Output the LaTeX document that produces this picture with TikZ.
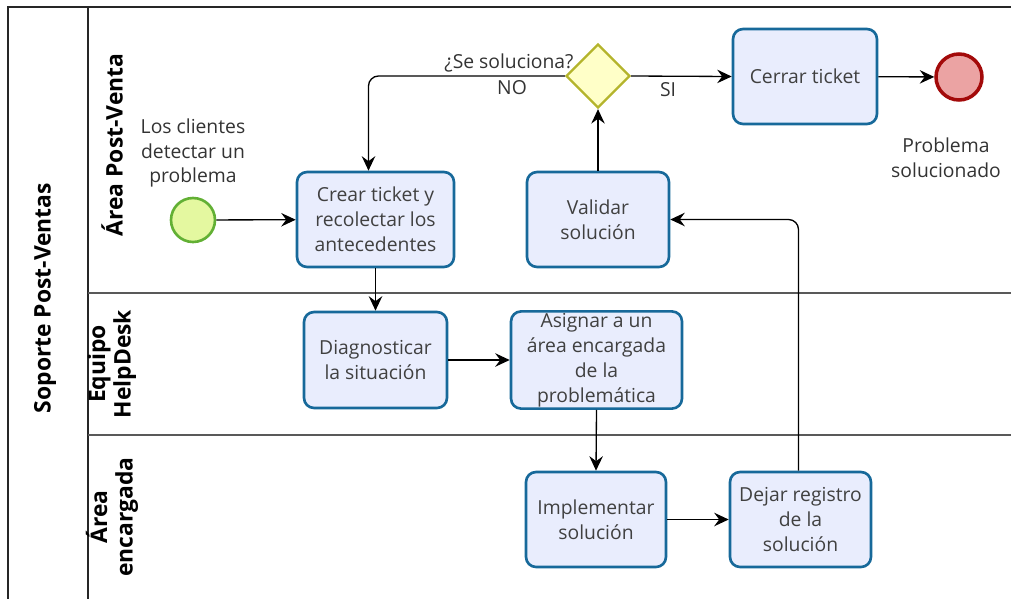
\documentclass[tikz,border=0pt]{standalone}
\usepackage{fontspec}
\setmainfont{Open Sans}
\usetikzlibrary{arrows.meta,shapes.geometric}

\begin{document}
\begin{tikzpicture}[x=0.02cm,y=-0.02cm,font=\fontsize{11}{14.2}\selectfont]
  % Colors
  \definecolor{taskfill}{HTML}{E9EDFD}
  \definecolor{taskdraw}{HTML}{17699A}
  \definecolor{startfill}{HTML}{E4F8A0}
  \definecolor{startdraw}{HTML}{62B034}
  \definecolor{endfill}{HTML}{EBA3A3}
  \definecolor{enddraw}{HTML}{A30A0A}
  \definecolor{gatefill}{HTML}{FFFFC8}
  \definecolor{gatedraw}{HTML}{B4B42C}

  % Styles
  \tikzstyle{pool line}=[draw=black!85, line width=0.9pt]
  \tikzstyle{lane line}=[draw=black!65, line width=0.9pt]
  \tikzstyle{pool title}=[font=\bfseries\fontsize{13}{14.5}\selectfont, align=center]
  \tikzstyle{lane title}=[font=\bfseries\fontsize{13}{14.5}\selectfont, align=center]
  \tikzstyle{task box}=[rectangle, rounded corners=2mm, draw=taskdraw, fill=taskfill,
                        line width=1.5pt, text=black!75, align=center, inner sep=1pt]
  \tikzstyle{gateway}=[diamond, draw=gatedraw, fill=gatefill, line width=1.3pt,
                       minimum width=1.28cm, minimum height=1.28cm, inner sep=0pt]
  \tikzstyle{start event}=[circle, draw=startdraw, fill=startfill, line width=1.5pt,
                           minimum size=0.88cm, inner sep=0pt]
  \tikzstyle{end event}=[circle, draw=enddraw, fill=endfill, line width=2pt,
                         minimum size=0.92cm, inner sep=0pt]
  \tikzstyle{event label}=[align=center, text=black!80]
  \tikzstyle{flow}=[draw=black, line width=0.75pt,
                    -{Stealth[length=2.9mm,width=2.7mm,inset=1mm]}]

  \useasboundingbox (0,0) rectangle (1011,599);

  % Pool and lanes
  \draw[pool line] (1011,7) -- (8,7) -- (8,599);
  \draw[pool line] (88,7) -- (88,599);
  \draw[lane line] (88,293) -- (1011,293);
  \draw[lane line] (88,435) -- (1011,435);

  \node[pool title, rotate=90] (pool) at (45,298) {Soporte Post-Ventas};
  \node[lane title, rotate=90] (postventa) at (112,145) {Área Post-Venta};
  \node[lane title, rotate=90] (helpdesk) at (112,364) {Equipo\\HelpDesk};
  \node[lane title, rotate=90] (encargada) at (112,517) {Área\\encargada};

  % Events and gateway
  \node[start event] (inicio) at (193,220) {};
  \node[event label] (inicio label) at (193,153) {Los clientes\\detectar un\\problema};
  \node[end event] (fin) at (959,77) {};
  \node[event label] (fin label) at (946,158) {Problema\\solucionado};
  \node[gateway] (gw) at (598,76) {};
  \node[event label] (gw label) at (509,63) {¿Se soluciona?};
  \node[event label] (no label) at (512,88) {NO};
  \node[event label] (si label) at (668,90) {SI};

  % Tasks
  \node[task box, minimum width=3.14cm, minimum height=1.9cm] (crear) at (375.5,219.5)
    {Crear ticket y\\recolectar los\\antecedentes};
  \node[task box, minimum width=2.84cm, minimum height=1.9cm] (validar) at (598,219.5)
    {Validar\\solución};
  \node[task box, minimum width=2.88cm, minimum height=1.9cm] (cerrar) at (805,76.5)
    {Cerrar ticket};
  \node[task box, minimum width=2.86cm, minimum height=1.92cm] (diag) at (375.5,360)
    {Diagnosticar\\la situación};
  \node[task box, minimum width=3.42cm, minimum height=1.92cm] (asignar) at (596.5,360)
    {Asignar a un\\área encargada\\de la\\problemática};
  \node[task box, minimum width=2.8cm, minimum height=1.9cm] (implementar) at (596,519.5)
    {Implementar\\solución};
  \node[task box, minimum width=2.82cm, minimum height=1.9cm] (registro) at (800.5,519.5)
    {Dejar registro\\de la\\solución};

  % Flows
  \draw[flow] (inicio) -- (crear);
  \draw[flow] (crear.south) -- (diag.north);
  \draw[flow] (diag) -- (asignar);
  \draw[flow] (asignar.south) -- (implementar.north);
  \draw[flow] (implementar) -- (registro);
  \draw[flow, rounded corners=2mm] ([xshift=-0.4mm]registro.north) |- (validar.east);
  \draw[flow] (validar.north) -- (gw.south);
  \draw[flow, rounded corners=2mm] (gw.west) -| ([xshift=-1.4mm]crear.north);
  \draw[flow] (gw.east) -- (cerrar.west);
  \draw[flow] (cerrar) -- (fin);
\end{tikzpicture}
\end{document}
